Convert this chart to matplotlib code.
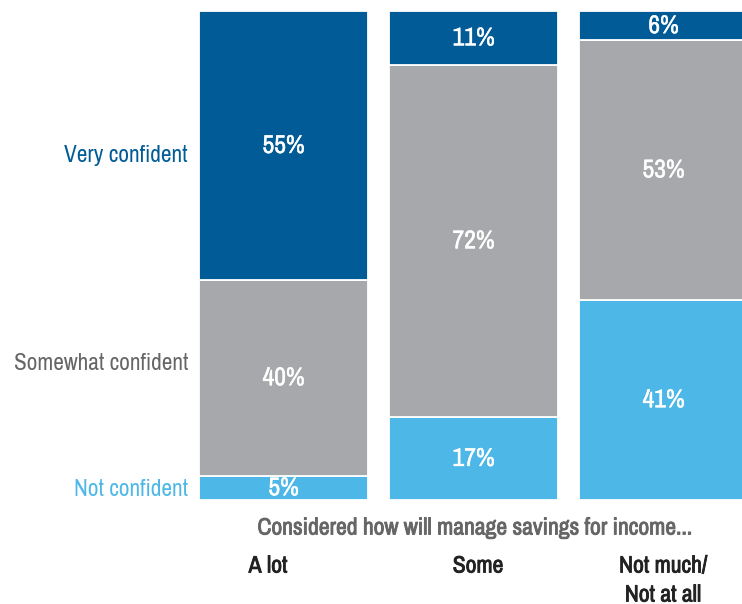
import matplotlib.pyplot as plt
import matplotlib.patheffects as pe
from matplotlib import font_manager

groups = ['A lot', 'Some', 'Not much/\nNot at all']
not_conf = [5, 17, 41]
somewhat = [40, 72, 53]
very = [55, 11, 6]
levels = ['Very confident', 'Somewhat confident', 'Not confident']
axis_title = 'Considered how will manage savings for income...'

dark = '#005B97'
grey = '#A7A8AB'
light = '#4DB8E7'

names = {f.name for f in font_manager.fontManager.ttflist}
fam = 'Archivo Narrow' if 'Archivo Narrow' in names else 'DejaVu Sans'
plt.rcParams['font.family'] = [fam, 'DejaVu Sans']


def heavy(c, lw=0.6):
    # the narrow font only ships one weight, so thicken glyphs with a stroke
    return [pe.withStroke(linewidth=lw, foreground=c)]


fig = plt.figure(figsize=(7.42, 6.04), dpi=100)
ax = fig.add_axes([199 / 742, 104 / 604, 543 / 742, 489 / 604])

x = list(range(len(groups)))
w = 0.89
ax.bar(x, not_conf, w, color=light, edgecolor='white', linewidth=1.3)
ax.bar(x, somewhat, w, bottom=not_conf, color=grey, edgecolor='white', linewidth=1.3)
bot2 = [a + b for a, b in zip(not_conf, somewhat)]
ax.bar(x, very, w, bottom=bot2, color=dark, edgecolor='white', linewidth=1.3)

for i in x:
    segs = [(not_conf[i], 0), (somewhat[i], not_conf[i]), (very[i], bot2[i])]
    for v, b in segs:
        ax.text(i, b + v / 2, f'{v}%', ha='center', va='center',
                color='white', fontsize=18.5, path_effects=heavy('white', 0.3))

ax.set_xlim(-0.445, 2.413)
ax.set_ylim(0, 100)
ax.axis('off')

# level labels on the left of the first bar
for lab, py, c in zip(levels, [156, 363, 490], [dark, '#666666', light]):
    fig.text(188 / 742, 1 - py / 604, lab, ha='right', va='center', color=c,
             fontsize=16.8)

fig.text(474.5 / 742, 1 - 528 / 604, axis_title, ha='center', va='center',
         color='#666666', fontsize=17, path_effects=heavy('#666666'))
for g, px in zip(groups, [268, 478, 663]):
    for k, line in enumerate(g.split('\n')):
        fig.text(px / 742, 1 - (566 + 29 * k) / 604, line, ha='center', va='center',
                 color='#222222', fontsize=17, path_effects=heavy('#222222'))

fig.savefig('out.png', dpi=100)
